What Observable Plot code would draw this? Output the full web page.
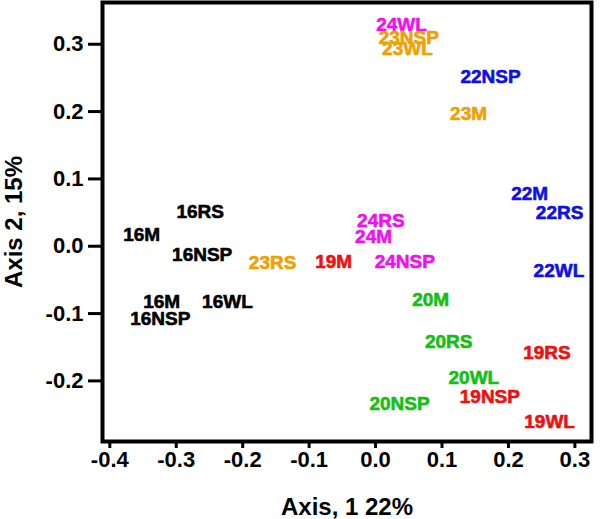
<!DOCTYPE html>
<html>
<head>
<meta charset="utf-8">
<script src="https://cdn.jsdelivr.net/npm/d3@7"></script>
<script src="https://cdn.jsdelivr.net/npm/@observablehq/plot@0.6"></script>
<style>
  html, body { margin: 0; padding: 0; background: #fff; }
  #chart svg { display: block; }
</style>
</head>
<body>
<div id="chart"></div>
<script>
const labels = ["24WL","23NSP","23WL","22NSP","23M","22M","22RS","22WL","24RS","24M","24NSP","19M","23RS","16RS","16M","16NSP","16M","16NSP","16WL","20M","20RS","19RS","20WL","19NSP","20NSP","19WL"];
const axis1 = [0.039,0.050,0.048,0.173,0.140,0.232,0.277,0.276,0.008,-0.003,0.044,-0.063,-0.155,-0.264,-0.352,-0.261,-0.322,-0.324,-0.223,0.083,0.110,0.258,0.148,0.172,0.036,0.262];
const axis2 = [0.329,0.310,0.293,0.252,0.197,0.077,0.050,-0.036,0.038,0.014,-0.023,-0.023,-0.025,0.051,0.017,-0.013,-0.082,-0.108,-0.082,-0.079,-0.142,-0.158,-0.195,-0.224,-0.234,-0.261];
const groups = ["24","23","23","22","23","22","22","22","24","24","24","19","23","16","16","16","16","16","16","20","20","19","20","19","20","19"];
const groupNames = ["16","19","20","22","23","24"];
const groupColors = ["#000000","#ee1010","#12c012","#1010e0","#f0a000","#ee10ee"];
const xTicks = [-0.4,-0.3,-0.2,-0.1,0.0,0.1,0.2,0.3];
const yTicks = [-0.2,-0.1,0.0,0.1,0.2,0.3];

const data = labels.map((l, i) => ({label: l, x: axis1[i], y: axis2[i], g: groups[i]}));

const chart = Plot.plot({
  width: 600,
  height: 519,
  marginLeft: 102,
  marginRight: 9,
  marginTop: 2,
  marginBottom: 78,
  style: {fontFamily: "'Liberation Sans', Arial, sans-serif", fontWeight: "bold", background: "#fff", color: "#000"},
  x: {domain: [-0.411, 0.325]},
  y: {domain: [-0.290, 0.362]},
  color: {domain: groupNames, range: groupColors},
  marks: [
    Plot.frame({stroke: "#000", strokeWidth: 4}),
    Plot.axisX({ticks: xTicks, tickSize: 7, tickPadding: 3, strokeWidth: 3, fontSize: 22, tickFormat: d => d.toFixed(1), label: null}),
    Plot.axisX({ticks: [], tickSize: 0, fontSize: 24, label: "Axis, 1 22%", labelAnchor: "center", labelArrow: "none", labelOffset: 73}),
    Plot.axisY({ticks: yTicks, tickSize: 14, tickPadding: 5, strokeWidth: 3, fontSize: 22, tickFormat: d => d.toFixed(1), label: null}),
    Plot.axisY({ticks: [], tickSize: 0, fontSize: 24, label: "Axis 2, 15%", labelAnchor: "center", labelArrow: "none", labelOffset: 98}),
    Plot.text(data, {x: "x", y: "y", text: "label", fill: "g", stroke: "g", strokeWidth: 0.6, fontSize: 19, fontWeight: "bold"})
  ]
});
document.getElementById("chart").appendChild(chart);
</script>
</body>
</html>
